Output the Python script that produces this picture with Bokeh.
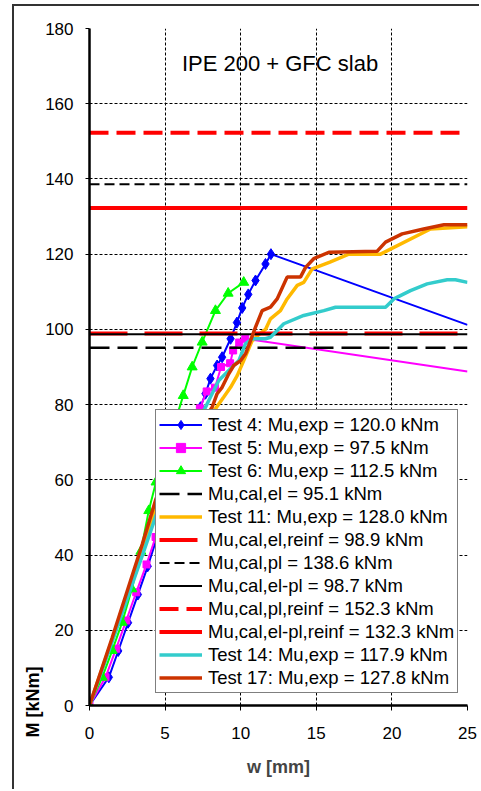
from bokeh.embed import file_html
from bokeh.models import FixedTicker, Label, Legend, LegendItem, Range1d, Title
from bokeh.plotting import figure
from bokeh.resources import INLINE

# Moment-deflection curves: deflection w [mm] and bending moment M [kNm]
t4_w = [0, 1.28, 1.9, 2.55, 3.2, 3.85, 4.45, 5.1, 5.7, 6.25, 6.8, 7.34, 7.67, 8.0, 8.44,
        8.77, 9.33, 9.75, 10.1, 10.5, 10.98, 11.64, 12.0, 25.0]
t4_m = [0, 7.5, 14.5, 22.0, 29.5, 37.0, 44.5, 52.0, 59.0, 65.5, 72.0, 79.3, 82.9, 86.9, 90.4,
        92.6, 97.5, 101.8, 105.7, 109.3, 113.0, 117.4, 120.0, 101.2]

t5_w = [0, 1.06, 1.76, 2.43, 3.09, 3.77, 4.37, 5.0, 5.6, 6.2, 6.8, 7.3, 7.75, 8.3, 8.7,
        9.3, 9.5, 9.9, 10.3, 25.0]
t5_m = [0, 7.5, 15.1, 22.6, 30.1, 37.5, 44.8, 52.0, 59.0, 66.0, 73.0, 79.0, 83.5, 84.5, 90.0,
        91.0, 94.4, 96.5, 97.5, 88.8]

t6_w = [0, 0.84, 1.5, 2.16, 2.8, 3.4, 3.92, 4.4, 6.2, 6.79, 7.45, 8.33, 9.17, 10.2]
t6_m = [0, 7.5, 14.6, 22.1, 31.0, 41.0, 51.8, 59.4, 82.4, 90.0, 96.6, 105.0, 109.6, 112.5]

t11_w = [0, 1.5, 2.5, 3.5, 4.4, 8.1, 8.88, 9.33, 9.77, 10.2, 10.76, 11.3, 11.64, 11.97, 12.63,
         13.07, 13.74, 14.17, 14.73, 15.9, 17.15, 19.25, 22.55, 25.0]
t11_m = [0, 17.5, 29.5, 41.5, 52.5, 77.6, 82.0, 84.6, 87.7, 91.7, 97.0, 99.0, 100.0, 102.8, 105.0,
         108.1, 111.7, 112.5, 116.1, 117.9, 120.0, 120.0, 126.7, 127.3]

t14_w = [0, 1.5, 2.5, 3.5, 4.4, 7.56, 8.11, 8.55, 9.44, 9.88, 10.32, 10.76, 11.64, 11.97, 12.85,
         14.17, 15.5, 16.27, 19.58, 20.13, 21.23, 22.33, 23.66, 24.2, 25.0]
t14_m = [0, 17.0, 28.5, 40.0, 50.5, 78.4, 82.9, 86.4, 90.0, 91.7, 96.2, 97.5, 97.5, 97.9, 101.5,
         103.7, 105.0, 105.9, 105.9, 108.1, 110.3, 112.1, 113.2, 113.2, 112.5]

t17_w = [0, 1.5, 2.5, 3.5, 4.4, 7.67, 7.89, 8.11, 8.44, 8.77, 9.21, 9.54, 9.99, 10.32, 10.65,
         10.98, 11.42, 11.97, 12.41, 13.07, 13.95, 14.29, 14.83, 15.83, 19.03, 19.58, 20.68,
         22.1, 23.44, 25.0]
t17_m = [0, 18.0, 30.5, 43.0, 55.0, 75.8, 78.0, 79.3, 82.9, 84.6, 88.2, 90.4, 91.7, 93.5, 97.0,
         100.6, 105.0, 105.9, 108.1, 113.9, 113.9, 116.5, 118.8, 120.5, 120.8, 123.2, 125.4,
         126.7, 127.8, 127.8]

# Calculated resistances [kNm]
mu_cal_el = 95.1
mu_cal_el_reinf = 98.9
mu_cal_pl = 138.6
mu_cal_el_pl = 98.7
mu_cal_pl_reinf = 152.3
mu_cal_el_pl_reinf = 132.3

span_w = [0, 25]
x_ticks = [0, 5, 10, 15, 20, 25]
y_ticks = [0, 20, 40, 60, 80, 100, 120, 140, 160, 180]

FONT = "Liberation Sans"

p = figure(width=467, height=785, x_range=Range1d(0, 25), y_range=Range1d(0, 180),
           output_backend="svg", toolbar_location=None,
           min_border_left=75, min_border_right=14, min_border_top=22, min_border_bottom=86)
p.styles = {"margin-left": "12px", "margin-top": "4px",
            "border-left": "2px solid #333333", "border-top": "2px solid #333333"}
p.outline_line_color = None
p.background_fill_color = "white"
p.border_fill_color = "white"

for g in (p.xgrid, p.ygrid):
    g.grid_line_color = "black"
    g.grid_line_dash = "3 2"
    g.grid_line_width = 1

for ax in (p.xaxis, p.yaxis):
    ax.axis_line_width = 2.5
    ax.axis_line_color = "black"
    ax.major_tick_in = 0
    ax.minor_tick_line_color = None
    ax.major_tick_line_color = "black"
    ax.major_label_text_font = FONT
    ax.major_label_text_font_size = "17px"
    ax.major_label_text_color = "black"

p.xaxis.ticker = FixedTicker(ticks=x_ticks)
p.yaxis.ticker = FixedTicker(ticks=y_ticks)
p.xaxis.major_tick_out = 5
p.yaxis.major_tick_out = 4
p.xaxis.major_label_standoff = 16
p.yaxis.major_label_standoff = 12
p.xaxis.axis_label = "w [mm]"
p.xaxis.axis_label_text_font = FONT
p.xaxis.axis_label_text_font_size = "18px"
p.xaxis.axis_label_text_font_style = "bold"
p.xaxis.axis_label_standoff = 15


def hline(value, color, width, dash="solid"):
    return p.line(span_w, [value, value], line_color=color, line_width=width, line_dash=dash)


r4 = p.line(t4_w, t4_m, line_color="#0000FF", line_width=2)
r4m = p.scatter(t4_w[:-1], t4_m[:-1], marker="diamond", size=11, color="#0000FF")
r5 = p.line(t5_w, t5_m, line_color="#FF00FF", line_width=2)
r5m = p.scatter(t5_w[:-1], t5_m[:-1], marker="square", size=7, color="#FF00FF")
r6 = p.line(t6_w, t6_m, line_color="#00FF00", line_width=2)
r6m = p.scatter(t6_w, t6_m, marker="triangle", size=10, color="#00FF00")
r_el = hline(mu_cal_el, "black", 2.5, "20 8")
r11 = p.line(t11_w, t11_m, line_color="#FFB900", line_width=3.5)
r_el_reinf = hline(mu_cal_el_reinf, "#FF0000", 4, "38 17")
r_pl = hline(mu_cal_pl, "black", 2, "10 5")
r_el_pl = hline(mu_cal_el_pl, "black", 2)
r_pl_reinf = hline(mu_cal_pl_reinf, "#FF0000", 4, "19 8")
r_el_pl_reinf = hline(mu_cal_el_pl_reinf, "#FF0000", 4)
r14 = p.line(t14_w, t14_m, line_color="#33CCCC", line_width=3.5)
r17 = p.line(t17_w, t17_m, line_color="#CC3300", line_width=3.5)

items = [
    LegendItem(label="Test 4: Mu,exp = 120.0 kNm", renderers=[r4, r4m]),
    LegendItem(label="Test 5: Mu,exp = 97.5 kNm", renderers=[r5, r5m]),
    LegendItem(label="Test 6: Mu,exp = 112.5 kNm", renderers=[r6, r6m]),
    LegendItem(label=f"Mu,cal,el = {mu_cal_el} kNm", renderers=[r_el]),
    LegendItem(label="Test 11: Mu,exp = 128.0 kNm", renderers=[r11]),
    LegendItem(label=f"Mu,cal,el,reinf = {mu_cal_el_reinf} kNm", renderers=[r_el_reinf]),
    LegendItem(label=f"Mu,cal,pl = {mu_cal_pl} kNm", renderers=[r_pl]),
    LegendItem(label=f"Mu,cal,el-pl = {mu_cal_el_pl} kNm", renderers=[r_el_pl]),
    LegendItem(label=f"Mu,cal,pl,reinf = {mu_cal_pl_reinf} kNm", renderers=[r_pl_reinf]),
    LegendItem(label=f"Mu,cal,el-pl,reinf = {mu_cal_el_pl_reinf} kNm", renderers=[r_el_pl_reinf]),
    LegendItem(label="Test 14: Mu,exp = 117.9 kNm", renderers=[r14]),
    LegendItem(label="Test 17: Mu,exp = 127.8 kNm", renderers=[r17]),
]
legend = Legend(items=items, location=(66, 12), label_text_font=FONT,
                label_text_font_size="18.5px", label_text_color="black",
                glyph_width=43, glyph_height=23, label_height=23, spacing=0,
                padding=3, margin=0, label_standoff=6,
                border_line_color="black", border_line_width=1,
                background_fill_color="white", background_fill_alpha=1)
p.add_layout(legend)

p.add_layout(Label(x=12.6, y=170.7, text="IPE 200 + GFC slab", text_align="center",
                   text_baseline="middle", text_font=FONT, text_font_size="22px",
                   text_color="black"))

# y-axis title, placed low beside the axis
p.add_layout(Title(text="M [kNm]", align="left", offset=-32, standoff=0,
                   text_font=FONT, text_font_size="18px", text_font_style="bold",
                   text_color="black"), "left")

open("out.html", "w").write(file_html(p, INLINE))
